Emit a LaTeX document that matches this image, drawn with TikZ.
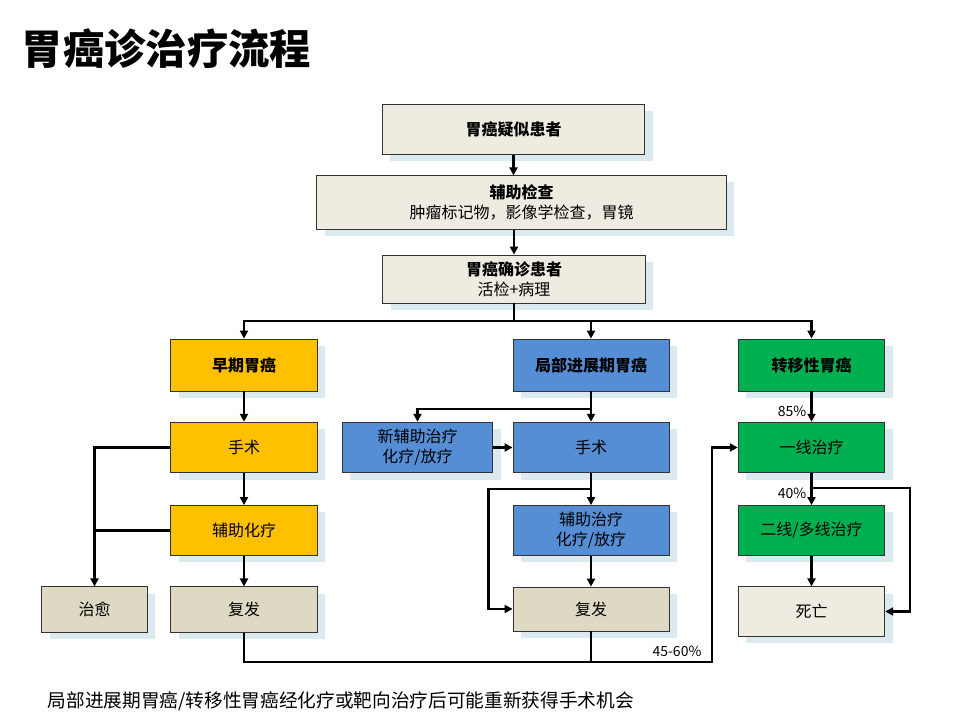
\documentclass[tikz,border=0pt]{standalone}
\usepackage{fontspec}
\setmainfont{Noto Sans CJK SC}
\usetikzlibrary{arrows.meta,shadows}

\definecolor{cream}{RGB}{238,236,225}
\definecolor{tan}{RGB}{221,217,195}
\definecolor{early}{RGB}{255,192,0}
\definecolor{local}{RGB}{85,142,213}
\definecolor{meta}{RGB}{0,176,80}
\definecolor{boxshadow}{RGB}{218,234,238}

\tikzset{
  box/.style={draw=black!80, line width=0.6pt, inner sep=0pt, align=center,
              minimum width=110pt, minimum height=38pt,
              font=\fontsize{12}{15}\selectfont,
              drop shadow={shadow xshift=6pt, shadow yshift=-5pt, fill=boxshadow, opacity=1}},
  head/.style={font=\fontsize{12}{15}\selectfont\bfseries},
  flow/.style={line width=1.8pt, -{Triangle[length=6pt,width=6pt]}},
  link/.style={line width=1.8pt},
  pct/.style={font=\fontsize{10.5}{12}\selectfont, inner sep=0pt},
}

\begin{document}
\begin{tikzpicture}[x=0.75pt, y=-0.75pt]
        \useasboundingbox (0,0) rectangle (960,720);
        \node[anchor=west, font=\fontsize{31}{36}\selectfont\bfseries] (title) at (17,49) {胃癌诊治疗流程};
        % trunk
        \node[box, head, fill=cream, minimum width=197pt]                      (sus)  at (513.5,129.5) {胃癌疑似患者};
        \node[box, fill=cream, minimum width=307pt, minimum height=40pt]       (aux)  at (521.5,202.5) {\textbf{辅助检查}\\肿瘤标记物，影像学检查，胃镜};
        \node[box, fill=cream, minimum width=197pt, minimum height=36pt]       (conf) at (514,279)     {\textbf{胃癌确诊患者}\\活检+病理};
        \coordinate (bar) at (514,321);
        % early
        \node[box, head, fill=early, minimum height=39pt]                      (early) at (244,365)    {早期胃癌};
        \node[box, fill=early]                                                 (esurg) at (244,447.5)  {手术};
        \node[box, fill=early, minimum height=37.5pt]                          (eadj)  at (244,530.5)  {辅助化疗};
        \node[box, fill=tan, minimum width=79pt, minimum height=34pt]          (cure)  at (94.5,609.5) {治愈};
        \node[box, fill=tan, minimum height=34pt]                              (erel)  at (244,609.5)  {复发};
        % locally advanced
        \node[box, head, fill=local, minimum width=117pt, minimum height=39pt] (local) at (591,365)    {局部进展期胃癌};
        \node[box, fill=local, minimum width=113pt]                            (neo)   at (417.5,447.5) {新辅助治疗\\化疗/放疗};
        \node[box, fill=local, minimum width=117pt]                            (lsurg) at (591,447.5)  {手术};
        \node[box, fill=local, minimum width=117pt, minimum height=37.5pt]     (ladj)  at (591,530.5)  {辅助治疗\\化疗/放疗};
        \node[box, fill=tan, minimum width=117pt, minimum height=33pt]         (lrel)  at (591,609)    {复发};
        \coordinate (lsplit) at (591,409);
        \coordinate (lskip)  at (591,489);
        % metastatic
        \node[box, head, fill=meta, minimum height=39pt]                       (meta)   at (811.5,365)   {转移性胃癌};
        \node[box, fill=meta]                                                  (first)  at (811.5,447.5) {一线治疗};
        \node[box, fill=meta, minimum height=37.5pt]                           (second) at (811.5,530.5) {二线/多线治疗};
        \node[box, fill=cream, minimum height=37pt]                            (death)  at (811.5,611.5) {死亡};
        \coordinate (gsplit) at (811.5,488);
        \coordinate (back)   at (712,662);
        % connectors
        \draw[flow] (sus) -- (sus |- aux.north);                               %
        \draw[flow] (aux.south -| conf) -- (conf);                             %
        \draw[link] (conf) -- (bar);                                           %
        \draw[flow] (bar) -| (early);                                          %
        \draw[flow] (bar) -| (local);                                          %
        \draw[flow] (bar) -| (meta);                                           %
        \draw[flow] (early) -- (esurg);                                        %
        \draw[flow] (esurg) -- (eadj);                                         %
        \draw[flow] (eadj) -- (erel);                                          %
        \draw[flow] (esurg.west) -| (cure);                                    %cured
        \draw[link] (eadj.west) -- (eadj.west -| cure);                        %
        \draw[flow] (local) -- (lsurg);                                        %
        \draw[flow] (lsplit) -| (neo);                                         %
        \draw[flow] (neo) -- (lsurg);                                          %
        \draw[flow] (lsurg) -- (ladj);                                         %
        \draw[flow] (ladj) -- (lrel);                                          %
        \draw[flow] (lskip) -| ([xshift=-18pt]lrel.west) -- (lrel.west);       %
        \draw[flow] (erel) |- (back) |- (first);                               %back to surgery
        \draw[link] (lrel) -- (lrel |- back);                                  %
        \draw[flow] (meta) -- (first);                                         %
        \draw[flow] (first) -- (second);                                       %
        \draw[flow] (second) -- (death);                                       %
        \draw[flow] (gsplit) -| ([xshift=18.75pt]death.east) -- (death.east);  %
        \node[pct] (p85) at (792,411) {85\%};
        \node[pct] (p40) at (792,493) {40\%};
        \node[pct] (p45) at (677,651) {45-60\%};
        \node[anchor=west, font=\fontsize{14}{17}\selectfont] (note) at (43,701) {局部进展期胃癌/转移性胃癌经化疗或靶向治疗后可能重新获得手术机会};
\end{tikzpicture}
\end{document}
